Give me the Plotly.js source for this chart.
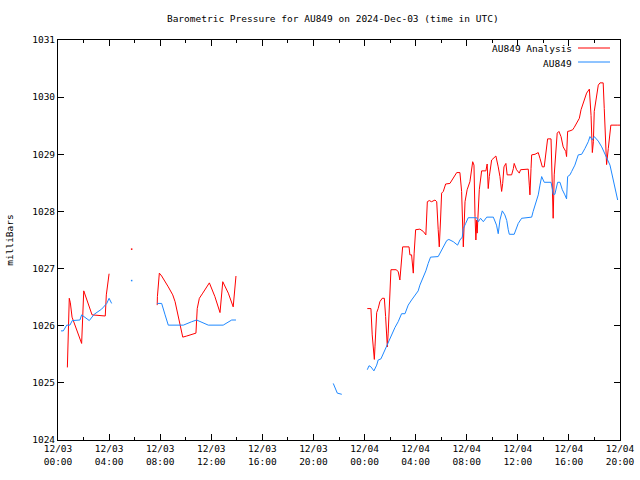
<!DOCTYPE html>
<html>
<head>
<meta charset="utf-8">
<script src="https://cdn.plot.ly/plotly-3.0.1.min.js"></script>
<style>html,body{margin:0;padding:0;background:#fff;}#chart{width:640px;height:480px;}</style>
</head>
<body>
<div id="chart"></div>
<script>
// ---- data ----
var analysisTime = [
  "2024-12-03 00:44","2024-12-03 00:46","2024-12-03 00:50","2024-12-03 00:53","2024-12-03 00:58","2024-12-03 01:06","2024-12-03 01:51","2024-12-03 01:56","2024-12-03 02:01","2024-12-03 02:40","2024-12-03 03:42","2024-12-03 03:47","2024-12-03 03:55","2024-12-03 04:00",
  "2024-12-03 05:00",
  "2024-12-03 07:46","2024-12-03 07:47","2024-12-03 07:56","2024-12-03 08:07","2024-12-03 08:38","2024-12-03 08:59","2024-12-03 09:10","2024-12-03 09:33","2024-12-03 09:46","2024-12-03 10:05","2024-12-03 10:28","2024-12-03 10:48","2024-12-03 10:54","2024-12-03 11:04","2024-12-03 11:20","2024-12-03 11:51","2024-12-03 12:17","2024-12-03 12:41","2024-12-03 12:54","2024-12-03 13:20","2024-12-03 13:43","2024-12-03 13:51","2024-12-03 13:56",
  "2024-12-03 18:00",
  "2024-12-04 00:13","2024-12-04 00:30","2024-12-04 00:36","2024-12-04 00:41","2024-12-04 00:46","2024-12-04 00:49","2024-12-04 00:52","2024-12-04 00:57","2024-12-04 01:04","2024-12-04 01:12","2024-12-04 01:23","2024-12-04 01:33","2024-12-04 01:39","2024-12-04 01:44","2024-12-04 01:47","2024-12-04 01:51","2024-12-04 01:56","2024-12-04 02:01","2024-12-04 02:04","2024-12-04 02:28","2024-12-04 02:38","2024-12-04 02:46","2024-12-04 02:50","2024-12-04 02:54","2024-12-04 02:59","2024-12-04 03:29","2024-12-04 03:33","2024-12-04 03:41","2024-12-04 03:46","2024-12-04 03:49","2024-12-04 03:53","2024-12-04 03:57",
  "2024-12-04 04:00","2024-12-04 04:20","2024-12-04 04:36","2024-12-04 04:48","2024-12-04 04:55","2024-12-04 05:04","2024-12-04 05:15","2024-12-04 05:31","2024-12-04 05:39","2024-12-04 05:46","2024-12-04 05:51","2024-12-04 05:57","2024-12-04 06:02","2024-12-04 06:10","2024-12-04 06:21","2024-12-04 06:41","2024-12-04 06:57","2024-12-04 07:13","2024-12-04 07:28","2024-12-04 07:36","2024-12-04 07:44","2024-12-04 07:52",
  "2024-12-04 08:02","2024-12-04 08:15","2024-12-04 08:28","2024-12-04 08:34","2024-12-04 08:39","2024-12-04 08:43","2024-12-04 08:47","2024-12-04 08:49","2024-12-04 08:59","2024-12-04 09:05","2024-12-04 09:10","2024-12-04 09:30","2024-12-04 09:36","2024-12-04 09:41","2024-12-04 09:46","2024-12-04 09:57","2024-12-04 10:08","2024-12-04 10:17","2024-12-04 10:28","2024-12-04 10:36","2024-12-04 10:44","2024-12-04 10:49","2024-12-04 10:55",
  "2024-12-04 11:04","2024-12-04 11:10","2024-12-04 11:31","2024-12-04 11:39","2024-12-04 11:43","2024-12-04 11:54","2024-12-04 12:07","2024-12-04 12:13","2024-12-04 12:34","2024-12-04 12:49","2024-12-04 12:54","2024-12-04 12:57","2024-12-04 13:02","2024-12-04 13:05","2024-12-04 13:21","2024-12-04 13:36","2024-12-04 13:44","2024-12-04 13:55",
  "2024-12-04 14:04","2024-12-04 14:12","2024-12-04 14:20","2024-12-04 14:36","2024-12-04 14:39","2024-12-04 14:46","2024-12-04 14:51","2024-12-04 14:58","2024-12-04 15:05","2024-12-04 15:13","2024-12-04 15:23","2024-12-04 15:33","2024-12-04 15:45","2024-12-04 15:49","2024-12-04 15:54",
  "2024-12-04 16:05","2024-12-04 16:18","2024-12-04 16:25","2024-12-04 16:36","2024-12-04 16:49","2024-12-04 16:57","2024-12-04 17:03","2024-12-04 17:12","2024-12-04 17:23","2024-12-04 17:36","2024-12-04 17:44","2024-12-04 17:50","2024-12-04 17:55","2024-12-04 17:59",
  "2024-12-04 18:07","2024-12-04 18:18","2024-12-04 18:26","2024-12-04 18:41","2024-12-04 18:46","2024-12-04 18:53","2024-12-04 18:57","2024-12-04 19:05","2024-12-04 19:13","2024-12-04 19:17","2024-12-04 19:47","2024-12-04 20:00"
];
var analysisValue = [
  1025.27,1025.58,1025.82,1026.48,1026.40,1026.15,1025.69,1026.22,1026.61,1026.19,1026.17,1026.54,1026.75,1026.91,
  null,
  1026.36,1026.51,1026.92,1026.87,1026.68,1026.54,1026.42,1026.01,1025.80,1025.82,1025.84,1025.87,1026.30,1026.48,1026.57,1026.75,1026.51,1026.23,1026.77,1026.57,1026.33,1026.74,1026.87,
  null,
  1026.30,1026.30,1025.84,1025.60,1025.41,1025.63,1026.01,1026.23,1026.30,1026.42,1026.48,1026.48,1026.16,1025.78,1025.63,1025.87,1026.28,1026.65,1026.98,1026.98,1026.95,1026.80,1026.95,1027.21,1027.38,1027.38,1027.24,1027.24,1027.09,1026.92,1027.27,1027.50,
  1027.68,1027.69,1027.65,1027.59,1028.17,1028.19,1028.17,1028.20,1028.17,1027.68,1027.38,1027.85,1028.32,1028.35,1028.48,1028.49,1028.58,1028.68,1028.68,1028.35,1027.38,1028.17,
  1028.38,1028.52,1028.87,1028.81,1027.91,1027.50,1027.85,1027.62,1028.38,1028.61,1028.71,1028.71,1028.83,1028.40,1028.61,1028.90,1028.93,1028.97,1028.78,1028.61,1028.35,1028.49,1028.78,
  1028.84,1028.64,1028.64,1028.75,1028.84,1028.73,1028.67,1028.73,1028.74,1028.74,1028.46,1028.29,1028.75,1028.99,1029.00,1029.03,1028.93,1028.78,
  1028.78,1028.99,1029.27,1029.27,1028.64,1027.88,1028.64,1028.99,1029.37,1029.40,1029.31,1029.13,1029.05,1028.96,1029.40,
  1029.41,1029.43,1029.47,1029.54,1029.63,1029.78,1029.85,1029.95,1030.07,1030.14,1029.68,1029.03,1029.22,1029.75,
  1029.95,1030.21,1030.25,1030.25,1029.80,1028.90,1028.82,1029.10,1029.43,1029.51,1029.51,1029.51
];
var analysisLoneTime = ["2024-12-03 05:46"];
var analysisLoneValue = [1027.34];

var obsTime = [
  "2024-12-03 00:14","2024-12-03 00:25","2024-12-03 00:41","2024-12-03 00:56","2024-12-03 01:07","2024-12-03 01:43","2024-12-03 01:51","2024-12-03 02:27","2024-12-03 02:50","2024-12-03 03:25","2024-12-03 03:49","2024-12-03 04:00","2024-12-03 04:12",
  "2024-12-03 05:00",
  "2024-12-03 07:46","2024-12-03 08:07","2024-12-03 08:23","2024-12-03 08:38","2024-12-03 09:49","2024-12-03 10:05","2024-12-03 10:28","2024-12-03 10:51","2024-12-03 11:07","2024-12-03 11:46","2024-12-03 12:56","2024-12-03 13:20","2024-12-03 13:36","2024-12-03 13:56",
  "2024-12-03 18:00",
  "2024-12-03 21:33","2024-12-03 21:52","2024-12-03 22:13",
  "2024-12-03 23:00",
  "2024-12-04 00:13","2024-12-04 00:21","2024-12-04 00:30","2024-12-04 00:44","2024-12-04 00:57","2024-12-04 01:04","2024-12-04 01:17","2024-12-04 01:28","2024-12-04 01:39","2024-12-04 01:51","2024-12-04 02:07","2024-12-04 02:23","2024-12-04 02:38","2024-12-04 02:54","2024-12-04 03:10","2024-12-04 03:25","2024-12-04 03:41","2024-12-04 03:57",
  "2024-12-04 04:12","2024-12-04 04:20","2024-12-04 04:36","2024-12-04 04:48","2024-12-04 04:59","2024-12-04 05:10","2024-12-04 05:46","2024-12-04 06:02","2024-12-04 06:26","2024-12-04 06:36","2024-12-04 06:57","2024-12-04 07:17","2024-12-04 07:28","2024-12-04 07:39","2024-12-04 07:44","2024-12-04 07:55",
  "2024-12-04 08:07","2024-12-04 08:47","2024-12-04 08:54","2024-12-04 09:05","2024-12-04 09:18","2024-12-04 09:34","2024-12-04 10:05","2024-12-04 10:20","2024-12-04 10:28","2024-12-04 10:36","2024-12-04 10:47","2024-12-04 10:59","2024-12-04 11:08","2024-12-04 11:15","2024-12-04 11:20","2024-12-04 11:43",
  "2024-12-04 12:02","2024-12-04 12:18","2024-12-04 12:49","2024-12-04 13:05","2024-12-04 13:12","2024-12-04 13:21","2024-12-04 13:28","2024-12-04 13:36","2024-12-04 13:44","2024-12-04 13:52","2024-12-04 14:04","2024-12-04 14:36","2024-12-04 14:42","2024-12-04 14:46","2024-12-04 14:54","2024-12-04 14:59",
  "2024-12-04 15:07","2024-12-04 15:18","2024-12-04 15:29","2024-12-04 15:41","2024-12-04 15:49","2024-12-04 15:54","2024-12-04 16:05","2024-12-04 16:13","2024-12-04 16:28","2024-12-04 16:44","2024-12-04 17:00","2024-12-04 17:15","2024-12-04 17:31","2024-12-04 17:39","2024-12-04 17:50","2024-12-04 17:59",
  "2024-12-04 18:18","2024-12-04 18:34","2024-12-04 18:49","2024-12-04 19:02","2024-12-04 19:13","2024-12-04 19:24","2024-12-04 19:36","2024-12-04 19:49"
];
var obsValue = [
  1025.91,1025.91,1026.01,1026.01,1026.09,1026.10,1026.19,1026.09,1026.20,1026.29,1026.39,1026.48,1026.39,
  null,
  1026.39,1026.39,1026.19,1026.01,1026.01,1026.04,1026.07,1026.10,1026.07,1026.01,1026.01,1026.07,1026.10,1026.10,
  null,
  1024.99,1024.82,1024.80,
  null,
  1025.23,1025.30,1025.28,1025.21,1025.31,1025.40,1025.42,1025.51,1025.60,1025.73,1025.84,1025.97,1026.07,1026.21,1026.21,1026.36,1026.45,1026.54,
  1026.61,1026.71,1026.85,1026.96,1027.09,1027.20,1027.21,1027.33,1027.49,1027.51,1027.47,1027.41,1027.50,1027.55,1027.70,1027.79,
  1027.89,1027.89,1027.82,1027.88,1027.82,1027.90,1027.90,1027.76,1027.61,1027.85,1028.01,1027.94,1027.84,1027.68,1027.60,1027.60,
  1027.79,1027.88,1027.90,1027.90,1028.00,1028.12,1028.20,1028.29,1028.46,1028.61,1028.51,1028.51,1028.40,1028.30,1028.30,1028.40,
  1028.51,1028.51,1028.38,1028.29,1028.22,1028.61,1028.64,1028.70,1028.81,1028.99,1029.00,1029.10,1029.22,1029.31,1029.25,1029.31,
  1029.23,1029.13,1028.99,1028.90,1028.81,1028.64,1028.40,1028.20
];
var obsLoneTime = ["2024-12-03 05:46"];
var obsLoneValue = [1026.79];

var seriesNames = ["AU849 Analysis", "AU849"];
var tickVals = ["2024-12-03 00:00","2024-12-03 04:00","2024-12-03 08:00","2024-12-03 12:00","2024-12-03 16:00","2024-12-03 20:00",
                "2024-12-04 00:00","2024-12-04 04:00","2024-12-04 08:00","2024-12-04 12:00","2024-12-04 16:00","2024-12-04 20:00"];
var tickText = ["12/03<br>00:00","12/03<br>04:00","12/03<br>08:00","12/03<br>12:00","12/03<br>16:00","12/03<br>20:00",
                "12/04<br>00:00","12/04<br>04:00","12/04<br>08:00","12/04<br>12:00","12/04<br>16:00","12/04<br>20:00"];

// ---- styling ----
var RED = "#ff0000", BLUE = "#1e88ff";
var FONT = {family: "DejaVu Sans Mono, monospace", size: 9.5, color: "#000"};

var traces = [
  {x: analysisTime, y: analysisValue, type: "scatter", mode: "lines", name: seriesNames[0],
   line: {color: RED, width: 1}, connectgaps: false, showlegend: false},
  {x: obsTime, y: obsValue, type: "scatter", mode: "lines", name: seriesNames[1],
   line: {color: BLUE, width: 1}, connectgaps: false, showlegend: false},
  {x: analysisLoneTime, y: analysisLoneValue, type: "scatter", mode: "markers", showlegend: false,
   marker: {color: RED, size: 1.5, symbol: "square"}},
  {x: obsLoneTime, y: obsLoneValue, type: "scatter", mode: "markers", showlegend: false,
   marker: {color: BLUE, size: 1.5, symbol: "square"}}
];

var layout = {
  width: 640, height: 480,
  margin: {l: 58, r: 20, t: 40, b: 40, pad: 0},
  paper_bgcolor: "#fff", plot_bgcolor: "#fff",
  font: FONT,
  showlegend: false,
  title: {text: "Barometric Pressure for AU849 on 2024-Dec-03 (time in UTC)",
          font: FONT, x: 0.52, xref: "container", xanchor: "center",
          y: 1 - 19/480, yref: "container", yanchor: "middle"},
  xaxis: {
    type: "date",
    range: ["2024-12-03 00:00", "2024-12-04 20:00"],
    tickmode: "array", tickvals: tickVals, ticktext: tickText,
    ticks: "inside", ticklen: 6, tickcolor: "#000", tickwidth: 1,
    minor: {dtick: 2*3600000, ticks: "inside", ticklen: 3, tickcolor: "#000", showgrid: false},
    showline: true, linecolor: "#000", linewidth: 1, mirror: "ticks",
    showgrid: false, zeroline: false, tickfont: FONT, automargin: false
  },
  yaxis: {
    range: [1024, 1031], dtick: 1, tick0: 1024,
    ticks: "inside", ticklen: 6, tickcolor: "#000", tickwidth: 1,
    showline: true, linecolor: "#000", linewidth: 1, mirror: "ticks",
    showgrid: false, zeroline: false, tickfont: FONT, automargin: false,
    title: {text: "milliBars", font: FONT, standoff: 16}
  },
  annotations: [
    {xref: "paper", yref: "paper", x: (574-58)/562, y: (440-49)/400, xanchor: "right", yanchor: "middle",
     text: seriesNames[0], showarrow: false, font: FONT},
    {xref: "paper", yref: "paper", x: (574-58)/562, y: (440-63)/400, xanchor: "right", yanchor: "middle",
     text: seriesNames[1], showarrow: false, font: FONT}
  ],
  shapes: [
    {type: "line", xref: "paper", yref: "paper", x0: (578-58)/562, x1: (610-58)/562,
     y0: (440-48)/400, y1: (440-48)/400, line: {color: RED, width: 1}},
    {type: "line", xref: "paper", yref: "paper", x0: (578-58)/562, x1: (610-58)/562,
     y0: (440-62)/400, y1: (440-62)/400, line: {color: BLUE, width: 1}}
  ]
};

Plotly.newPlot("chart", traces, layout, {staticPlot: true, displayModeBar: false});
</script>
</body>
</html>
